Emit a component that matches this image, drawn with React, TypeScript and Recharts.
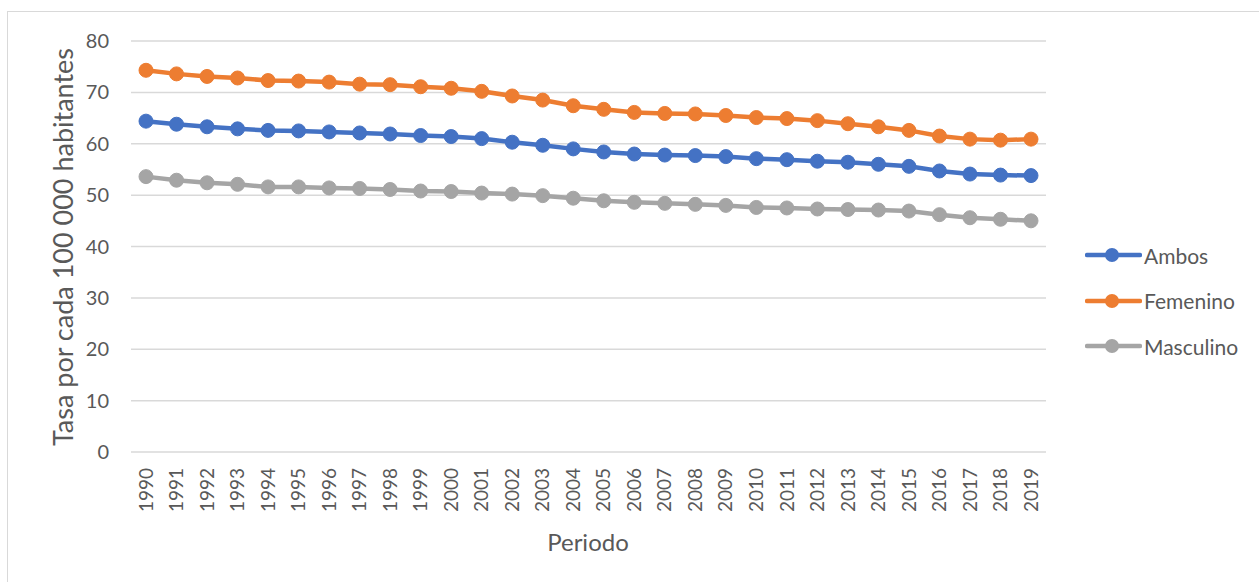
import React from "react";
import {
  LineChart,
  Line,
  XAxis,
  YAxis,
  CartesianGrid,
  Label,
} from "recharts";

const YEARS = [
  "1990", "1991", "1992", "1993", "1994", "1995", "1996", "1997", "1998", "1999",
  "2000", "2001", "2002", "2003", "2004", "2005", "2006", "2007", "2008", "2009",
  "2010", "2011", "2012", "2013", "2014", "2015", "2016", "2017", "2018", "2019",
];

const AMBOS = [
  64.4, 63.8, 63.3, 62.9, 62.6, 62.5, 62.3, 62.1, 61.9, 61.6,
  61.4, 61.0, 60.3, 59.7, 59.0, 58.4, 58.0, 57.8, 57.7, 57.5,
  57.1, 56.9, 56.6, 56.4, 56.0, 55.6, 54.7, 54.1, 53.9, 53.8,
];

const FEMENINO = [
  74.3, 73.6, 73.1, 72.8, 72.3, 72.2, 72.0, 71.6, 71.5, 71.1,
  70.8, 70.2, 69.3, 68.5, 67.4, 66.7, 66.1, 65.9, 65.8, 65.5,
  65.1, 64.9, 64.5, 63.9, 63.3, 62.6, 61.5, 60.9, 60.7, 60.9,
];

const MASCULINO = [
  53.6, 52.9, 52.4, 52.1, 51.6, 51.6, 51.4, 51.3, 51.1, 50.8,
  50.7, 50.4, 50.2, 49.9, 49.4, 48.9, 48.6, 48.4, 48.2, 48.0,
  47.6, 47.5, 47.3, 47.2, 47.1, 46.9, 46.2, 45.6, 45.3, 45.0,
];

const Y_TICKS = [0, 10, 20, 30, 40, 50, 60, 70, 80];

const SERIES = [
  { key: "ambos", name: "Ambos", color: "#4472C4" },
  { key: "femenino", name: "Femenino", color: "#ED7D31" },
  { key: "masculino", name: "Masculino", color: "#A5A5A5" },
];

const data = YEARS.map((year, i) => ({
  year,
  ambos: AMBOS[i],
  femenino: FEMENINO[i],
  masculino: MASCULINO[i],
}));

const FONT = "Lato, 'Open Sans', sans-serif";
const TEXT = "#595959";

function YearTick(props: any) {
  const { x, y, payload } = props;
  return (
    <g transform={`translate(${x},${y})`}>
      <text
        transform="rotate(-90)"
        x={-16}
        y={0}
        dy="0.35em"
        textAnchor="end"
        fill={TEXT}
        fontSize={19}
        fontFamily={FONT}
      >
        {payload.value}
      </text>
    </g>
  );
}

export default function App() {
  return (
    <div style={{ position: "absolute", left: 0, top: 0, width: 1259, height: 582, background: "#fff" }}>
      <div
        style={{
          position: "absolute",
          left: 7,
          top: 11,
          width: 1260,
          height: 580,
          border: "1px solid #d9d9d9",
          boxSizing: "border-box",
        }}
      />
      <div style={{ position: "absolute", left: 0, top: 0 }}>
        <LineChart
          width={1259}
          height={582}
          data={data}
          margin={{ top: 41, right: 213, left: 0, bottom: 30 }}
        >
          <CartesianGrid vertical={false} stroke="#d9d9d9" strokeWidth={1.5} />
          <XAxis
            dataKey="year"
            padding={{ left: 15, right: 15 }}
            axisLine={false}
            tickLine={false}
            tickSize={0}
            tickMargin={0}
            interval={0}
            height={100}
            tick={<YearTick />}
          >
            <Label
              content={() => (
                <text x={588} y={541} textAnchor="middle" dominantBaseline="central" fill={TEXT} fontSize={24} fontFamily={FONT}>
                  Periodo
                </text>
              )}
            />
          </XAxis>
          <YAxis
            domain={[0, 80]}
            ticks={Y_TICKS}
            width={131}
            axisLine={false}
            tickLine={false}
            tickSize={0}
            tickMargin={22}
            tick={{ fill: TEXT, fontSize: 20, fontFamily: FONT }}
          >
            <Label
              content={() => (
                <text
                  x={62}
                  y={247}
                  transform="rotate(-90 62 247)"
                  textAnchor="middle"
                  dominantBaseline="central"
                  fill={TEXT}
                  fontSize={27}
                  fontFamily={FONT}
                >
                  Tasa por cada 100 000 habitantes
                </text>
              )}
            />
          </YAxis>
          {SERIES.map((s) => (
            <Line
              key={s.key}
              dataKey={s.key}
              name={s.name}
              stroke={s.color}
              strokeWidth={4.5}
              dot={{ r: 7, fill: s.color, stroke: s.color, strokeWidth: 1 }}
              activeDot={false}
              isAnimationActive={false}
            />
          ))}
        </LineChart>
      </div>
      {SERIES.map((s, i) => (
        <div
          key={s.key}
          style={{
            position: "absolute",
            left: 1085,
            top: 255 + i * 45.5 - 15,
            height: 30,
            display: "flex",
            alignItems: "center",
            fontFamily: FONT,
            fontSize: 21,
            color: TEXT,
          }}
        >
          <svg width={57} height={30} style={{ display: "block" }}>
            <line x1={2} y1={15} x2={55} y2={15} stroke={s.color} strokeWidth={4.5} strokeLinecap="round" />
            <circle cx={27} cy={15} r={7} fill={s.color} />
          </svg>
          <span style={{ marginLeft: 2 }}>{s.name}</span>
        </div>
      ))}
    </div>
  );
}
